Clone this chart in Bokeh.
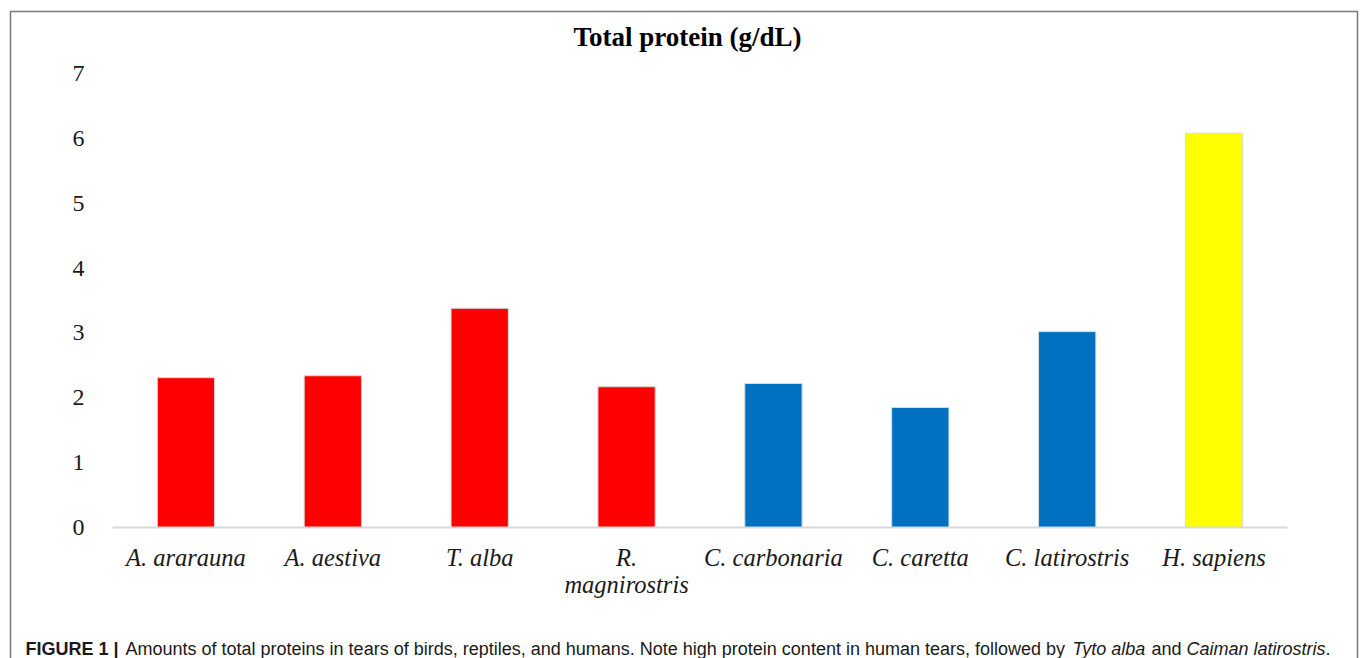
from bokeh.plotting import figure
from bokeh.models import Range1d, FixedTicker, Label, BoxAnnotation, LinearAxis
from bokeh.embed import file_html
from bokeh.resources import INLINE

# ---- data ----
categories = ["A. ararauna", "A. aestiva", "T. alba", "R.\nmagnirostris",
              "C. carbonaria", "C. caretta", "C. latirostris", "H. sapiens"]
total_protein = [2.31, 2.34, 3.38, 2.17, 2.22, 1.85, 3.02, 6.08]
bar_colors = ["#FF0000", "#FF0000", "#FF0000", "#FF0000",
              "#0070C0", "#0070C0", "#0070C0", "#FFFF00"]
y_ticks = [0, 1, 2, 3, 4, 5, 6, 7]
title_text = "Total protein (g/dL)"
caption_bold = "FIGURE 1 |"
caption_part1 = "Amounts of total proteins in tears of birds, reptiles, and humans. Note high protein content in human tears, followed by"
caption_italic1 = "Tyto alba"
caption_part2 = "and"
caption_italic2 = "Caiman latirostris"
caption_end = "."

# ---- layout (pixels) ----
W, H = 1360, 658
PX_L, PX_R = 112, 1287      # left / right end of the category axis
PY_0, PY_TOP = 527, 73      # pixel rows of y=0 and y=7
Y_MAX = 7
n = len(categories)
xs = (PX_R - PX_L) / n
ys = (PY_0 - PY_TOP) / Y_MAX
x_range = Range1d(-PX_L / xs, (W - PX_L) / xs)
y_range = Range1d(-(H - PY_0) / ys, PY_0 / ys)

x_pos = [i + 0.5 for i in range(n)]

p = figure(x_range=x_range, y_range=y_range, width=W, height=H,
           output_backend="svg", toolbar_location=None,
           x_axis_type=None, y_axis_type=None, min_border=0)
p.title.visible = False
p.background_fill_color = "white"
p.border_fill_color = "white"
p.outline_line_color = None

p.vbar(x=x_pos, top=total_protein, width=0.39, fill_color=bar_colors,
       line_color="#d9d9d9", line_width=1)

# x axis (fixed at y=0)
xaxis = LinearAxis(fixed_location=0, bounds=(0, n))
xaxis.ticker = FixedTicker(ticks=x_pos)
xaxis.major_label_overrides = {x: c for x, c in zip(x_pos, categories)}
xaxis.axis_line_color = "#d9d9d9"
xaxis.axis_line_width = 2
xaxis.major_tick_line_color = None
xaxis.minor_tick_line_color = None
xaxis.major_label_text_font = "Liberation Serif"
xaxis.major_label_text_font_style = "italic"
xaxis.major_label_text_font_size = "24.5px"
xaxis.major_label_text_line_height = 1.0
xaxis.major_label_text_color = "#1a1a1a"
xaxis.major_label_standoff = 10
p.add_layout(xaxis, "below")

# y axis (fixed at left end of category axis)
yaxis = LinearAxis(fixed_location=0)
yaxis.ticker = FixedTicker(ticks=y_ticks)
yaxis.axis_line_color = None
yaxis.major_tick_line_color = None
yaxis.minor_tick_line_color = None
yaxis.major_label_text_font = "Liberation Serif"
yaxis.major_label_text_font_size = "24px"
yaxis.major_label_text_color = "#1a1a1a"
yaxis.major_label_standoff = 22
p.add_layout(yaxis, "left")

# title
p.add_layout(Label(x=687, y=H - 36, x_units="screen", y_units="screen",
                   text=title_text, text_font="Liberation Serif",
                   text_font_style="bold", text_font_size="27px",
                   text_color="#000000", text_align="center",
                   text_baseline="middle"))

# outer frame border
def px2x(px):
    return (px - PX_L) / xs

def px2y(py):
    return (PY_0 - py) / ys

box = BoxAnnotation(left=px2x(10), right=px2x(1357), top=px2y(11), bottom=px2y(H + 40),
                    fill_alpha=0, line_color="#7a7a7a", line_alpha=1.0, line_width=1.5)
p.add_layout(box)

# caption pieces (screen units; frame = whole canvas)
cap_base = 648
cap_font = "Liberation Sans"
cap_size = "18px"
pieces = [
    (caption_bold, 25, "bold"),
    (caption_part1, 125, "normal"),
    (caption_italic1, 1072, "italic"),
    (caption_part2, 1151, "normal"),
    (caption_italic2, 1186, "italic"),
    (caption_end, 1325, "normal"),
]
for txt, xx, style in pieces:
    p.add_layout(Label(x=xx, y=H - cap_base, x_units="screen", y_units="screen",
                       text=txt, text_font=cap_font, text_font_size=cap_size,
                       text_font_style=style, text_color="#1a1a1a",
                       text_baseline="alphabetic", text_align="left"))

open("out.html", "w").write(file_html(p, INLINE))
